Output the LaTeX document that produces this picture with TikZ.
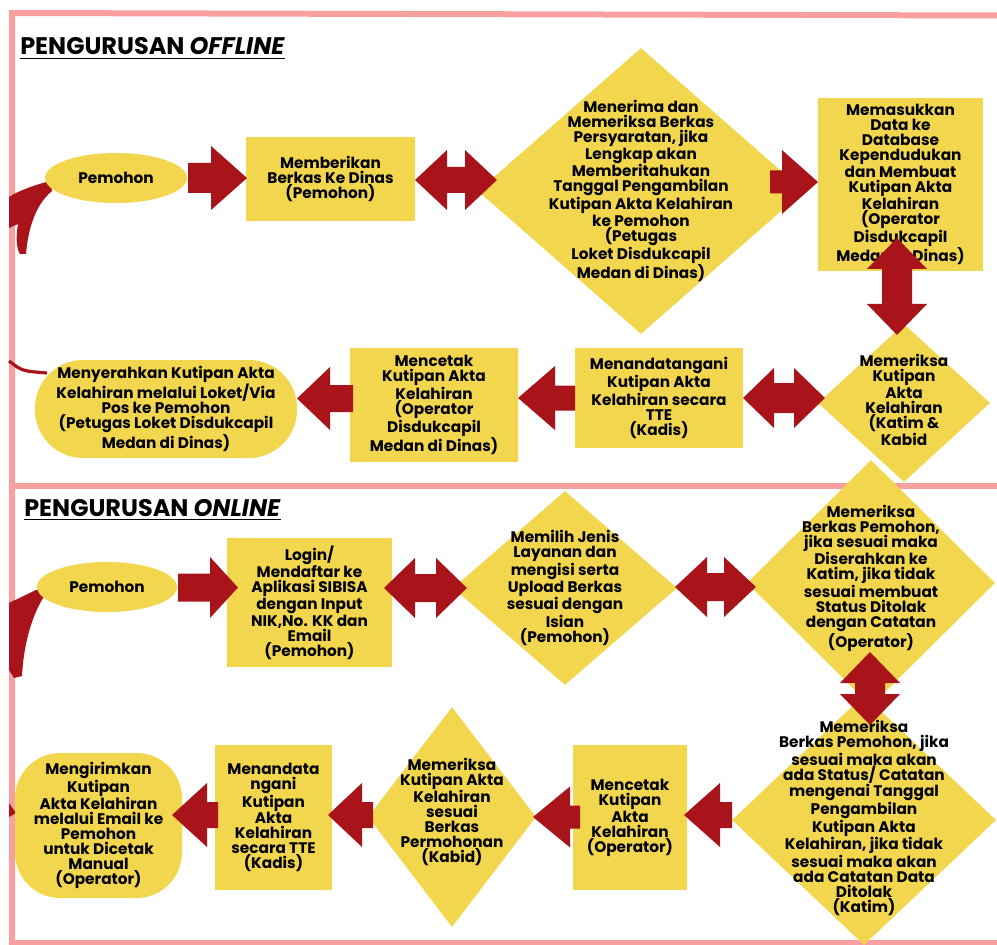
\documentclass[tikz,border=0pt]{standalone}
\usepackage{fontspec}
\setmainfont{Poppins}
\usetikzlibrary{shapes.geometric}
\definecolor{boxyellow}{HTML}{F2D74E}
\definecolor{arrowred}{HTML}{A8141A}
\definecolor{framepink}{HTML}{F8A0A0}
\tikzset{
  pics/onearrow/.style args={#1/#2/#3/#4}{code={
    \fill[arrowred] (0,#2) -- ({#1-#4},#2) -- ({#1-#4},#3) -- (#1,0) -- ({#1-#4},-#3) -- ({#1-#4},-#2) -- (0,-#2) -- cycle;}},
  pics/twoarrow/.style args={#1/#2/#3/#4}{code={
    \fill[arrowred] (0,0) -- (#4,#3) -- (#4,#2) -- ({#1-#4},#2) -- ({#1-#4},#3) -- (#1,0) -- ({#1-#4},-#3) -- ({#1-#4},-#2) -- (#4,-#2) -- (#4,-#3) -- cycle;}}
}

\begin{document}
\begin{tikzpicture}[x=0.75pt, y=-0.75pt,
    txt/.style={font=\bfseries\fontsize{11.5}{11.25}\selectfont, align=center, text=black, inner sep=0pt},
    boxstep/.style={txt, fill=boxyellow, rectangle},
    ovalstep/.style={txt, fill=boxyellow, ellipse},
    roundstep/.style={txt, fill=boxyellow, rectangle, rounded corners=#1},
    choice/.style={fill=boxyellow, diamond, inner sep=0pt},
    heading/.style={font=\bfseries\fontsize{18}{20}\selectfont, inner sep=0pt, anchor=base west}]
    \useasboundingbox (0,0) rectangle (997,945);

    % Frame
    \draw[framepink, line width=4.5pt] (997,15.5) -- (12,13) -- (12,945);
    \draw[framepink, line width=4.5pt] (12,486) -- (997,486);
    \draw[framepink, line width=4.5pt] (12,943) -- (997,943);

    % Headings
    \node[heading] (offTitle) at (20,55) {PENGURUSAN \textit{OFFLINE}};
    \draw[line width=1.1pt] ([yshift=-2.6pt]offTitle.base west) -- ([yshift=-2.6pt]offTitle.base east);
    \node[heading] (onTitle) at (24,516) {PENGURUSAN \textit{ONLINE}};
    \draw[line width=1.1pt] ([yshift=-2.6pt]onTitle.base west) -- ([yshift=-2.6pt]onTitle.base east);

    % Curved pieces at the left edge
    \fill[arrowred] (50,181) .. controls (35,185) and (20,190) .. (9,197) -- (9,228)
        .. controls (13,226) .. (18,224) .. controls (16,235) and (16,248) .. (20,254)
        -- (26,254) .. controls (28,230) and (35,205) .. (52,191) -- cycle;
    \draw[arrowred, line width=2.4pt] (9,361) .. controls (22,371) .. (47,373);
    \fill[arrowred] (9,603) -- (36,590) .. controls (40,588) and (45,592) .. (43,598)
        .. controls (33,615) and (24,640) .. (22,676) -- (14,678) -- (9,670) -- cycle;
    \fill[arrowred] (9,803) -- (16,813) -- (9,817) -- cycle;

    % Offline: first row
    \node[ovalstep, minimum width=106.5pt, minimum height=37.5pt] (pemA) at (116,178) {Pemohon};
    \node[boxstep, minimum width=126.75pt, minimum height=63pt] (berkasA) at (330.5,179)
        {Memberikan\\Berkas Ke Dinas\\(Pemohon)};
    \node[choice, minimum width=244.5pt, minimum height=214.5pt] (terimaA) at (641,191) {};
    \node[txt] (terimaAtxt) at (641,191) {Menerima dan\\Memeriksa Berkas\\Persyaratan, jika\\Lengkap akan\\Memberitahukan\\Tanggal Pengambilan\\Kutipan Akta Kelahiran\\ke Pemohon\\(Petugas\\Loket Disdukcapil\\Medan di Dinas)};
    \node[boxstep, minimum width=123.75pt, minimum height=129.75pt] (masukA) at (900.5,184.5)
        {Memasukkan\\Data ke\\Database\\Kependudukan\\dan Membuat\\Kutipan Akta\\Kelahiran\\(Operator\\Disdukcapil\\Medan di Dinas)};

    % Offline: second row
    \node[choice, minimum width=129pt, minimum height=118.5pt] (periksaA) at (904,403) {};
    \node[txt] (periksaAtxt) at (904,400) {Memeriksa\\Kutipan\\Akta\\Kelahiran\\(Katim \&\\Kabid};
    \node[boxstep, minimum width=126pt, minimum height=75pt] (ttdA) at (659,398)
        {Menandatangani\\Kutipan Akta\\Kelahiran secara\\TTE\\(Kadis)};
    \node[boxstep, minimum width=126pt, minimum height=85.5pt] (cetakA) at (434,405)
        {Mencetak\\Kutipan Akta\\Kelahiran\\(Operator\\Disdukcapil\\Medan di Dinas)};
    \node[roundstep=36pt, minimum width=196.5pt, minimum height=73.5pt] (serahA) at (166,409)
        {Menyerahkan Kutipan Akta\\Kelahiran melalui Loket/Via\\Pos ke Pemohon\\(Petugas Loket Disdukcapil\\Medan di Dinas)};

    % Online: first row
    \node[ovalstep, minimum width=105pt, minimum height=37.5pt] (pemB) at (107,587) {Pemohon};
    \node[boxstep, minimum width=123.75pt, minimum height=96.75pt] (loginB) at (309.5,602.5)
        {Login/\\Mendaftar ke\\Aplikasi SIBISA\\dengan Input\\NIK,No. KK dan\\Email\\(Pemohon)};
    \node[choice, minimum width=168pt, minimum height=145.5pt] (pilihB) at (565,588) {};
    \node[txt] (pilihBtxt) at (565,588) {Memilih Jenis\\Layanan dan\\mengisi serta\\Upload Berkas\\sesuai dengan\\Isian\\(Pemohon)};
    \node[choice, minimum width=186pt, minimum height=184.5pt] (cekB) at (871,583) {};
    \node[txt] (cekBtxt) at (871,578) {Memeriksa\\Berkas Pemohon,\\jika sesuai maka\\Diserahkan ke\\Katim, jika tidak\\sesuai membuat\\Status Ditolak\\dengan Catatan\\(Operator)};

    % Online: second row
    \node[choice, minimum width=198pt, minimum height=187.5pt] (katimB) at (864,820) {};
    \node[txt] (katimBtxt) at (864,818) {Memeriksa\\Berkas Pemohon, jika\\sesuai maka akan\\ada Status/ Catatan\\mengenai Tanggal\\Pengambilan\\Kutipan Akta\\Kelahiran, jika tidak\\sesuai maka akan\\ada Catatan Data\\Ditolak\\(Katim)};
    \node[boxstep, minimum width=85.5pt, minimum height=108.75pt] (cetakB) at (630,817.5)
        {Mencetak\\Kutipan\\Akta\\Kelahiran\\(Operator)};
    \node[choice, minimum width=126pt, minimum height=165pt] (kabidB) at (452,817) {};
    \node[txt] (kabidBtxt) at (452,812) {Memeriksa\\Kutipan Akta\\Kelahiran\\sesuai\\Berkas\\Permohonan\\(Kabid)};
    \node[boxstep, minimum width=87.75pt, minimum height=108.75pt] (ttdB) at (273.5,817.5)
        {Menandata\\ngani\\Kutipan\\Akta\\Kelahiran\\secara TTE\\(Kadis)};
    \node[roundstep=34pt, minimum width=125.25pt, minimum height=108.75pt] (kirimB) at (98.5,825.5)
        {Mengirimkan\\Kutipan\\Akta Kelahiran\\melalui Email ke\\Pemohon\\untuk Dicetak\\Manual\\(Operator)};

    % Block arrows, offline
    \pic at (188,178) {onearrow=59/15/32/36};
    \pic at (415,180) {twoarrow=82/13/30/32};
    \pic at (770,182) {onearrow=48/11.5/32/36};
    \pic[rotate=-90] at (897,238) {twoarrow=97/15/30/31};
    \pic at (743,398) {twoarrow=82/15/30/31};
    \pic[rotate=180] at (575,398) {onearrow=57/12.5/32/37};
    \pic[rotate=180] at (353,398.5) {onearrow=56/13.5/31.5/33};

    % Block arrows, online
    \pic at (178,587.5) {onearrow=60/14/30.5/28};
    \pic at (384,588) {twoarrow=83/14/30/31};
    \pic at (675,587) {twoarrow=81/14/30/32};
    \pic[rotate=-90] at (870,652) {twoarrow=73/15/30/31};
    \pic[rotate=180] at (732,815) {onearrow=48/13/32/36};
    \pic[rotate=180] at (580,817) {onearrow=47/11.5/30.5/37};
    \pic[rotate=180] at (373,815) {onearrow=45/13/32/34};
    \pic[rotate=180] at (218,815) {onearrow=46/13/32/35};
\end{tikzpicture}
\end{document}
